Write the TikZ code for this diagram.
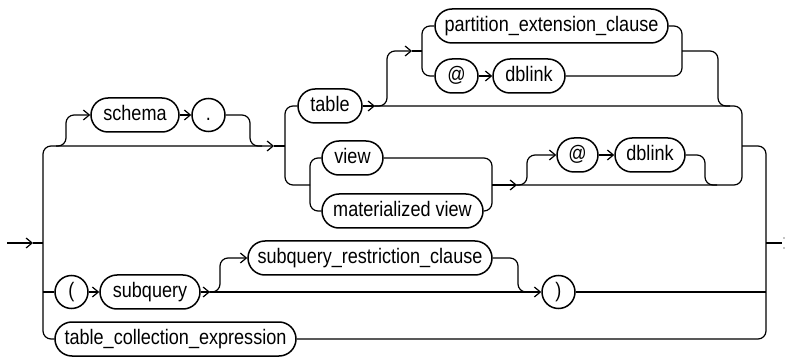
\documentclass[tikz,border=0pt]{standalone}
\usepackage{fontspec}
\setmainfont[FakeStretch=0.86]{Liberation Sans}
\usetikzlibrary{shapes.misc,shapes.geometric,arrows.meta,calc}
\begin{document}
\begin{tikzpicture}[x=1pt,y=-1pt,line width=1.2pt,
  nt/.style={draw,line width=1.5pt,rounded rectangle,minimum height=34pt,inner xsep=0pt,inner ysep=0pt,
             text height=15pt,text depth=4pt,font=\fontsize{21}{25}\selectfont},
  term/.style={draw,line width=1.5pt,circle,minimum size=33pt,inner sep=0pt,
             text height=15pt,text depth=4pt,font=\fontsize{21}{25}\selectfont},
  rc/.style={rounded corners=8pt},
  arr/.style={-{Straight Barb[length=6pt,width=10pt,line width=1.2pt]}}
]
\useasboundingbox (0,0) rectangle (785,358);
% nodes
\node[nt,minimum width=88pt] (schema) at (135,115) {schema};
\node[term] (dot) at (208.5,115) {.};
\node[nt,minimum width=64pt] (table) at (330,106) {table};
\node[nt,minimum width=233pt] (pec) at (551.5,26) {partition\_extension\_clause};
\node[nt,minimum width=43pt] (at1) at (456.5,76) {@};
\node[nt,minimum width=72pt] (db1) at (529,76) {dblink};
\node[nt,minimum width=61pt] (view) at (352.5,158) {view};
\node[nt,minimum width=161pt] (mv) at (402.5,211) {materialized view};
\node[nt,minimum width=41pt] (at2) at (577.5,155) {@};
\node[nt,minimum width=70pt] (db2) at (650,155) {dblink};
\node[term] (lp) at (71.5,292) {(};
\node[nt,minimum width=100pt] (subq) at (150,292) {subquery};
\node[nt,minimum width=244pt] (sqr) at (370,258) {subquery\_restriction\_clause};
\node[term] (rp) at (558.5,292) {)};
\node[nt,minimum width=241pt] (tce) at (175.5,339) {table\_collection\_expression};
\coordinate (start) at (7,243);
\coordinate (end) at (782,243);
% entry and left spine
\draw[arr] (start) -- (33,243);
\draw (33,243) -- (43,243);
\draw[rc,arr] (tce.west) -- (43,339) -- (43,146) -- (274,146);
\draw (274,146) -- (285,146);
% schema branch
\draw[rc,arr] (56,146) -- (66,146) -- (66,115) -- (schema.west);
\draw[arr] (schema.east) -- (dot.west);
\draw[rc] (dot.east) -- (250,115) -- (250,146) -- (262,146);
% table / view split
\draw[rc] (table.west) -- (285,106) -- (285,185) -- (310,185);
\draw[rc] (view.west) -- (310,158) -- (310,211) -- (mv.west);
\draw[rc] (view.east) -- (492,158) -- (492,211) -- (mv.east);
\draw[arr] (492,185) -- (517,185);
\draw[arr] (table.east) -- (375,106);
\draw[rc] (375,106) -- (742,106) -- (742,185) -- (517,185);
% partition group
\draw[rc,arr] (373,106) -- (387,106) -- (387,51) -- (412,51);
\draw (412,51) -- (422,51);
\draw[rc] (pec.west) -- (422,26) -- (422,76) -- (at1.west);
\draw[arr] (at1.east) -- (db1.west);
\draw[rc] (pec.east) -- (682,26) -- (682,76) -- (db1.east);
\draw[rc] (682,51) -- (718,51) -- (718,106) -- (730,106);
% @ dblink after view
\draw[rc,arr] (515,185) -- (527,185) -- (527,155) -- (at2.west);
\draw[arr] (at2.east) -- (db2.west);
\draw[rc] (db2.east) -- (705,155) -- (705,185) -- (717,185);
% subquery row
\draw (43,292) -- (lp.west);
\draw[arr] (lp.east) -- (subq.west);
\draw[arr] (subq.east) -- (210,292);
\draw[arr] (210,292) -- (rp.west);
\draw[rc,arr] (208,292) -- (220,292) -- (220,258) -- (sqr.west);
\draw[rc] (sqr.east) -- (518,258) -- (518,292) -- (530,292);
\draw (rp.east) -- (766,292);
% right spine and exit
\draw[rc] (742,146) -- (766,146) -- (766,339) -- (tce.east);
\draw (766,243) -- (end);
\fill (784,238) circle (0.7);
\fill (784,248) circle (0.7);
\end{tikzpicture}
\end{document}
